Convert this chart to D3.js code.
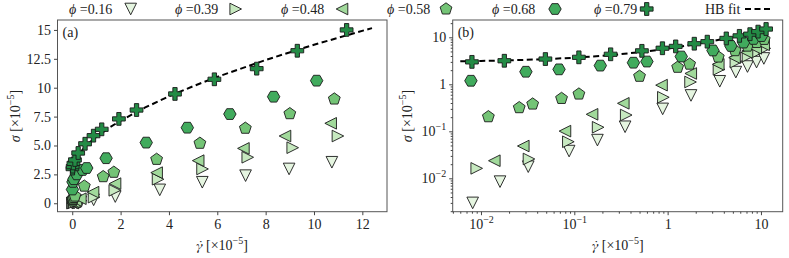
<!DOCTYPE html>
<html>
<head>
<meta charset="utf-8">
<script src="https://cdn.jsdelivr.net/npm/d3@7"></script>
<style>
body { margin: 0; background: #fff; }
</style>
</head>
<body>
<svg id="chart" width="789" height="258" font-family="Liberation Serif"></svg>
<script>
// volume fractions
const phiLabels = ["0.16", "0.39", "0.48", "0.58", "0.68", "0.79"];

// shear rate / stress, both in units of 1e-5
const rate016 = [0.00815, 0.016, 0.0321, 0.088, 0.177, 0.35, 0.885, 1.78, 3.62, 5.38, 7.17, 8.97, 10.74];
const stress016 = [0.003, 0.0085, 0.0177, 0.038, 0.065, 0.125, 0.30, 0.58, 1.16, 1.82, 2.39, 2.97, 3.55];

const rate039 = [0.009, 0.0327, 0.0863, 0.18, 0.36, 0.9, 1.76, 3.55, 5.39, 7.26, 9.12, 10.99];
const stress039 = [0.0163, 0.0258, 0.060, 0.122, 0.222, 0.53, 1.12, 2.08, 2.97, 3.98, 4.81, 5.82];

const rate048 = [0.0139, 0.0284, 0.0794, 0.155, 0.335, 0.86, 1.77, 3.49, 5.21, 7.08, 8.8, 10.69];
const stress048 = [0.0237, 0.0487, 0.101, 0.23, 0.394, 0.96, 1.7, 2.65, 3.69, 4.75, 5.82, 6.92];

const rate058 = [0.012, 0.0257, 0.0358, 0.073, 0.112, 0.5, 1.28, 1.72, 3.49, 5.28, 7.16, 9.0, 10.84];
const stress058 = [0.204, 0.318, 0.38, 0.50, 0.62, 1.48, 2.3, 2.68, 3.8, 5.19, 6.49, 7.75, 9.02];

const rate068 = [0.0078, 0.0303, 0.0686, 0.19, 0.43, 0.6, 1.4, 3.06, 4.76, 6.52, 8.33, 10.11];
const stress068 = [1.19, 1.85, 2.08, 2.5, 2.88, 3.05, 3.9, 5.25, 6.54, 7.72, 9.22, 10.61];

const rate079 = [0.008, 0.0178, 0.049, 0.112, 0.245, 0.53, 0.88, 1.22, 1.93, 2.66, 4.25, 5.88, 7.63, 9.31, 11.35];
const stress079 = [3.0, 3.17, 3.45, 3.75, 4.35, 5.15, 5.85, 6.4, 7.3, 8.07, 9.46, 10.73, 11.65, 13.2, 15.0];

// dashed HB fit curve
const hbRate = [0.006, 0.01, 0.02, 0.05, 0.1, 0.2, 0.3, 0.5, 0.75, 1, 1.5, 2, 3, 4, 5, 6, 8, 10, 12.4];
const hbStress = [3.09, 3.14, 3.23, 3.44, 3.68, 4.04, 4.33, 4.82, 5.32, 5.75, 6.50, 7.15, 8.27, 9.25, 10.13, 10.94, 12.40, 13.72, 15.16];

// tick values
const ticksAx = [0, 2, 4, 6, 8, 10, 12];
const ticksAy = [0, 2.5, 5, 7.5, 10, 12.5, 15];
const ticksAyLabels = ["0", "2.5", "5.0", "7.5", "10", "12.5", "15"];
const ticksBx = [0.01, 0.1, 1, 10];
const ticksBy = [0.01, 0.1, 1, 10];

const rates = [rate016, rate039, rate048, rate058, rate068, rate079];
const stresses = [stress016, stress039, stress048, stress058, stress068, stress079];
const markers = ["tdown", "tright", "tleft", "pent", "hex", "plus"];
const colors = ["#e5f5e0", "#c7e9c0", "#a1d99b", "#74c476", "#41ab5d", "#238b45"];

const FONT = "Liberation Serif";
const svg = d3.select("#chart");

function markerPath(type) {
    var r = 5.8, pts;
    switch (type) {
        case "tdown": pts = [[0, r], [-r, -r], [r, -r]]; break;
        case "tright": pts = [[r, 0], [-r, -r], [-r, r]]; break;
        case "tleft": pts = [[-r, 0], [r, -r], [r, r]]; break;
        case "pent":
            pts = d3.range(5).map(k => { var a = -Math.PI / 2 + k * 2 * Math.PI / 5; return [6.2 * Math.cos(a), 6.2 * Math.sin(a)]; });
            break;
        case "hex":
            pts = d3.range(6).map(k => { var a = k * Math.PI / 3; return [6.2 * Math.cos(a), 6.2 * Math.sin(a)]; });
            break;
        case "plus":
            var a = 6.4, b = a / 3;
            pts = [[-b, -a], [b, -a], [b, -b], [a, -b], [a, b], [b, b], [b, a], [-b, a], [-b, b], [-a, b], [-a, -b], [-b, -b]];
            break;
    }
    return "M" + pts.map(p => p[0].toFixed(2) + "," + p[1].toFixed(2)).join("L") + "Z";
}

function powLabel(sel, base, exp) {
    sel.text(null);
    sel.append("tspan").text(base);
    if (exp !== null) sel.append("tspan").attr("dy", -6).attr("font-size", 10).text(exp);
}

function panel(xs, ys, x0, x1, y0, y1, tag) {
    var g = svg.append("g");
    g.append("rect").attr("x", x0).attr("y", y0).attr("width", x1 - x0).attr("height", y1 - y0)
        .attr("fill", "none").attr("stroke", "#555").attr("stroke-width", 1);

    // HB fit
    var line = d3.line().x((d, i) => xs(hbRate[i])).y((d, i) => ys(hbStress[i]));
    g.append("path").datum(hbRate).attr("d", line).attr("fill", "none")
        .attr("stroke", "#000").attr("stroke-width", 2).attr("stroke-dasharray", "6,3.5");

    rates.forEach((rs, s) => {
        g.append("g").selectAll("path").data(rs).join("path")
            .attr("d", markerPath(markers[s]))
            .attr("transform", (d, i) => "translate(" + xs(d) + "," + ys(stresses[s][i]) + ")")
            .attr("fill", colors[s]).attr("stroke", "#1a1a1a").attr("stroke-width", 0.9);
    });

    g.append("text").attr("x", x0 + 5).attr("y", y0 + 17).attr("font-size", 14)
        .attr("font-family", FONT).attr("fill", "#222").text(tag);
    return g;
}

function styleAxis(a) {
    a.attr("font-family", FONT).attr("font-size", 14);
    a.select(".domain").remove();
    a.selectAll(".tick line").attr("stroke", "#444");
    a.selectAll(".tick text").attr("fill", "#222");
}

// ---- panel (a), linear
const xA = d3.scaleLinear().domain([-0.61, 13.02]).range([57.5, 387]);
const yA = d3.scaleLinear().domain([-0.73, 15.86]).range([211.7, 20]);
panel(xA, yA, 57.5, 387, 20, 211.7, "(a)");

var axA = svg.append("g").attr("transform", "translate(0,211.7)")
    .call(d3.axisBottom(xA).tickValues(ticksAx).tickSize(3.5).tickPadding(4).tickFormat(d3.format("d")));
styleAxis(axA);
var ayA = svg.append("g").attr("transform", "translate(57.5,0)")
    .call(d3.axisLeft(yA).tickValues(ticksAy).tickSize(3.5).tickPadding(3).tickFormat((d, i) => ticksAyLabels[i]));
styleAxis(ayA);

// ---- panel (b), log-log
const xB = d3.scaleLog().domain([Math.pow(10, -2.303), Math.pow(10, 1.233)]).range([452.7, 782.7]);
const yB = d3.scaleLog().domain([Math.pow(10, -2.71), Math.pow(10, 1.368)]).range([211.7, 20]);
panel(xB, yB, 452.7, 782.7, 20, 211.7, "(b)");

function minors(scale) {
    var dom = scale.domain(), out = [];
    for (var e = Math.floor(Math.log10(dom[0])); e <= Math.ceil(Math.log10(dom[1])); e++) {
        for (var m = 2; m < 10; m++) {
            var v = m * Math.pow(10, e);
            if (v >= dom[0] && v <= dom[1]) out.push(v);
        }
    }
    return out;
}

var mxB = svg.append("g").attr("transform", "translate(0,211.7)")
    .call(d3.axisBottom(xB).tickValues(minors(xB)).tickSize(2).tickFormat(""));
styleAxis(mxB);
var myB = svg.append("g").attr("transform", "translate(452.7,0)")
    .call(d3.axisLeft(yB).tickValues(minors(yB)).tickSize(2).tickFormat(""));
styleAxis(myB);

function logFmt(d) {
    var e = Math.round(Math.log10(d));
    if (e === 0) return ["1", null];
    if (e === 1) return ["10", null];
    return ["10", "\u2212" + (-e)];
}

var axB = svg.append("g").attr("transform", "translate(0,211.7)")
    .call(d3.axisBottom(xB).tickValues(ticksBx).tickSize(3.5).tickPadding(4).tickFormat(""));
styleAxis(axB);
axB.selectAll(".tick text").each(function (d) { var f = logFmt(d); powLabel(d3.select(this), f[0], f[1]); });

var ayB = svg.append("g").attr("transform", "translate(452.7,0)")
    .call(d3.axisLeft(yB).tickValues(ticksBy).tickSize(3.5).tickPadding(3).tickFormat(""));
styleAxis(ayB);
ayB.selectAll(".tick text").each(function (d) { var f = logFmt(d); powLabel(d3.select(this), f[0], f[1]); });

// ---- axis titles
function xTitle(cx) {
    var t = svg.append("text").attr("x", cx).attr("y", 250).attr("text-anchor", "middle")
        .attr("font-size", 14).attr("font-family", FONT).attr("fill", "#222");
    t.append("tspan").attr("font-style", "italic").attr("font-family", "FreeSerif").text("\u03b3\u0307");
    t.append("tspan").text(" [\u00d710");
    t.append("tspan").attr("dy", -6).attr("font-size", 10).text("\u22125");
    t.append("tspan").attr("dy", 6).text("]");
}
function yTitle(bx, cy) {
    var t = svg.append("text").attr("transform", "translate(" + bx + "," + cy + ") rotate(-90)")
        .attr("text-anchor", "middle").attr("font-size", 14).attr("font-family", FONT).attr("fill", "#222");
    t.append("tspan").attr("font-style", "italic").text("\u03c3");
    t.append("tspan").text(" [\u00d710");
    t.append("tspan").attr("dy", -6).attr("font-size", 10).text("\u22125");
    t.append("tspan").attr("dy", 6).text("]");
}
xTitle(222);
xTitle(617.7);
yTitle(20, 116);
yTitle(412, 116);

// ---- legend
const legendTextX = [69, 175, 281, 387, 492, 594];
const legendMarkX = [130.7, 235.7, 342, 446, 555, 646.7];
phiLabels.forEach((p, i) => {
    var t = svg.append("text").attr("x", legendTextX[i]).attr("y", 13.5).attr("font-size", 14)
        .attr("font-family", FONT).attr("fill", "#222");
    t.append("tspan").attr("font-style", "italic").text("\u03d5");
    t.append("tspan").text(" =" + p);
    svg.append("path").attr("d", markerPath(markers[i]))
        .attr("transform", "translate(" + legendMarkX[i] + ",9)")
        .attr("fill", colors[i]).attr("stroke", "#1a1a1a").attr("stroke-width", 0.9);
});
svg.append("text").attr("x", 705).attr("y", 13.5).attr("font-size", 14)
    .attr("font-family", FONT).attr("fill", "#222").text("HB fit");
svg.append("line").attr("x1", 745).attr("x2", 771).attr("y1", 9).attr("y2", 9)
    .attr("stroke", "#000").attr("stroke-width", 2).attr("stroke-dasharray", "6,3.5");
</script>
</body>
</html>
